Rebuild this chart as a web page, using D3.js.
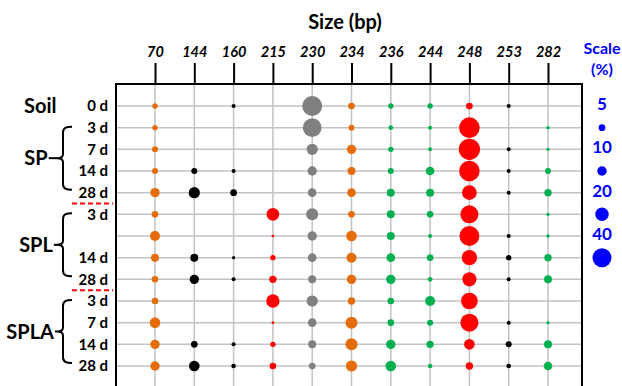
<!DOCTYPE html>
<html>
<head>
<meta charset="utf-8">
<script src="https://cdn.jsdelivr.net/npm/d3@7"></script>
<style>
  body { margin: 0; background: #fff; }
  svg { display: block; font-family: Lato, "Open Sans", sans-serif; font-weight: bold; }
</style>
</head>
<body>
<div id="chart"></div>
<script>
"use strict";

// fragment sizes (columns) and their dot colours
var sizes = ["70", "144", "160", "215", "230", "234", "236", "244", "248", "253", "282"];
var sizeColors = ["#e46c0a", "#000000", "#000000", "#ff0000", "#808080", "#e46c0a",
                  "#00b050", "#00b050", "#ff0000", "#000000", "#00b050"];

// rows: sampling day labels (one row has no label in the original)
var dayLabels = ["0 d", "3 d", "7 d", "14 d", "28 d", "3 d", "", "14 d", "28 d", "3 d", "7 d", "14 d", "28 d"];
var groupNames = ["SP", "SPL", "SPLA"];
var groupFirstRow = [1, 5, 9];
var groupLastRow = [4, 8, 12];
var scaleValues = [5, 10, 20, 40];

// relative abundance (%) per size, one value per row, null = not detected
var bp70  = [3.2, 3.2, 4, 4, 9.7, 4.9, 11, 7, 4.9, 4.9, 12.6, 9.7, 9.7];
var bp144 = [null, null, null, 4, 14, null, null, 7, 9.7, null, null, 5, 12.6];
var bp160 = [1.8, null, null, 1.8, 5, null, null, 1.2, 1.8, null, null, 1.8, 2.4];
var bp215 = [null, null, null, null, null, 17.8, 0.8, 3.2, 6, 19.7, 0.8, 3.2, 4.9];
var bp230 = [44, 38.7, 14, 9.7, 8.3, 16, 9.7, 8.3, 7, 14, 8.3, 7, 4.9];
var bp234 = [4.9, 4, 9.7, 7, 8.3, 4.9, 12.6, 11, 9.7, 6, 16, 16, 14];
var bp236 = [3.2, 2.4, 3.2, 4, 7, 7, 7, 8.3, 9.7, 4.9, 4.9, 9.7, 12.6];
var bp244 = [3.2, 1.8, 1.8, 8.3, 7, 4.9, 1.8, 4.9, 2.4, 11, 4, 6, 2.4];
var bp248 = [5, 47, 50, 47, 24, 36, 44, 26, 22, 31, 36, 12.6, 6];
var bp253 = [1.8, null, 1.8, 1.8, 1.8, null, 1.8, 3.2, 1.8, null, 1.8, 4, 2.4];
var bp282 = [null, 1.2, 1.2, 4, 6, 1.2, 1.2, 6, 7, null, 1.2, 7, 8.3];

(function() {
  // declarations
  var width = 622, height = 386;
  var frame = {left: 116, top: 84, right: 582, bottom: 388};
  var columns = [bp70, bp144, bp160, bp215, bp230, bp234, bp236, bp244, bp248, bp253, bp282];
  var rowIdx = d3.range(dayLabels.length);
  var svg, x, y, r, cells, legendX;

  x = d3.scalePoint().domain(sizes).range([155, 548]);
  y = d3.scalePoint().domain(rowIdx).range([106, 366]);
  r = d3.scaleSqrt().domain([0, 40]).range([0, 9.5]);

  svg = d3.select("#chart").append("svg")
    .attr("width", width)
    .attr("height", height);

  // grid
  svg.append("g").selectAll("line")
    .data(rowIdx)
    .enter().append("line")
    .attr("x1", frame.left).attr("x2", frame.right)
    .attr("y1", function(d) { return y(d); })
    .attr("y2", function(d) { return y(d); })
    .attr("stroke", "#c3c3c3").attr("stroke-width", 1.5);

  svg.append("g").selectAll("line")
    .data(sizes)
    .enter().append("line")
    .attr("x1", function(d) { return x(d); })
    .attr("x2", function(d) { return x(d); })
    .attr("y1", frame.top).attr("y2", frame.bottom)
    .attr("stroke", "#c3c3c3").attr("stroke-width", 1.5);

  // frame
  svg.append("rect")
    .attr("x", frame.left).attr("y", frame.top)
    .attr("width", frame.right - frame.left)
    .attr("height", frame.bottom - frame.top)
    .attr("fill", "none").attr("stroke", "#000").attr("stroke-width", 2);

  // top axis
  var axis = d3.axisTop(x).tickSize(21).tickPadding(6);
  var axisG = svg.append("g")
    .attr("transform", "translate(0," + frame.top + ")")
    .call(axis);
  axisG.select(".domain").remove();
  axisG.selectAll(".tick line").attr("stroke", "#000").attr("stroke-width", 2);
  axisG.selectAll(".tick text")
    .attr("fill", "#000")
    .style("font-family", "Lato, 'Open Sans', sans-serif")
    .style("font-size", "14.5px")
    .style("font-style", "italic")
    .style("font-weight", "bold");

  svg.append("text")
    .attr("x", 345).attr("y", 29)
    .attr("text-anchor", "middle")
    .style("font-size", "20px")
    .text("Size (bp)");

  // dots
  cells = [];
  columns.forEach(function(col, i) {
    col.forEach(function(v, j) {
      if (v !== null) cells.push({size: sizes[i], color: sizeColors[i], row: j, value: v});
    });
  });

  svg.append("g").selectAll("circle")
    .data(cells)
    .enter().append("circle")
    .attr("cx", function(d) { return x(d.size); })
    .attr("cy", function(d) { return y(d.row); })
    .attr("r", function(d) { return r(d.value); })
    .attr("fill", function(d) { return d.color; });

  // row labels
  svg.append("g").selectAll("text")
    .data(rowIdx)
    .enter().append("text")
    .attr("x", 108)
    .attr("y", function(d) { return y(d); })
    .attr("dy", "0.35em")
    .attr("text-anchor", "end")
    .style("font-size", "15px")
    .text(function(d) { return dayLabels[d]; });

  svg.append("text")
    .attr("x", 24).attr("y", y(0))
    .attr("dy", "0.35em")
    .style("font-size", "20px")
    .text("Soil");

  // group braces
  groupNames.forEach(function(name, i) {
    var top = y(groupFirstRow[i]) - 1, bot = y(groupLastRow[i]) - 3;
    var mid = (top + bot) / 2, sx = 63, hx = 72, tx = 57;
    var path = d3.path(), label, w, endX;
    path.moveTo(hx, top);
    path.bezierCurveTo(66, top, sx, top + 1, sx, top + 6);
    path.lineTo(sx, mid - 4);
    path.bezierCurveTo(sx, mid - 1, 61, mid, tx, mid);
    path.bezierCurveTo(61, mid, sx, mid + 1, sx, mid + 4);
    path.lineTo(sx, bot - 6);
    path.bezierCurveTo(sx, bot - 1, 66, bot, hx, bot);
    svg.append("path")
      .attr("d", path.toString())
      .attr("fill", "none").attr("stroke", "#000").attr("stroke-width", 2);

    label = svg.append("text")
      .attr("y", mid)
      .attr("dy", "0.35em")
      .attr("text-anchor", "end")
      .style("font-size", "20px")
      .text(name);
    w = label.node().getComputedTextLength();
    endX = Math.min(36 + w / 2, 54);
    label.attr("x", endX);

    svg.append("line")
      .attr("x1", endX + 1).attr("x2", tx)
      .attr("y1", mid).attr("y2", mid)
      .attr("stroke", "#000").attr("stroke-width", 2);
  });

  // dashed separators between groups
  [4, 8].forEach(function(row) {
    var yy = (y(row) + y(row + 1)) / 2;
    svg.append("line")
      .attr("x1", 72).attr("x2", 113)
      .attr("y1", yy).attr("y2", yy)
      .attr("stroke", "#ff0000").attr("stroke-width", 2)
      .attr("stroke-dasharray", "5,3");
  });

  // size legend
  legendX = 602;
  svg.append("text")
    .attr("x", legendX).attr("y", 54)
    .attr("text-anchor", "middle")
    .attr("fill", "#0000ff")
    .style("font-size", "16px")
    .text("Scale");
  svg.append("text")
    .attr("x", legendX).attr("y", 75)
    .attr("text-anchor", "middle")
    .attr("fill", "#0000ff")
    .style("font-size", "16px")
    .text("(%)");

  scaleValues.forEach(function(v, i) {
    svg.append("text")
      .attr("x", legendX).attr("y", y(i * 2) - 2)
      .attr("dy", "0.35em")
      .attr("text-anchor", "middle")
      .attr("fill", "#0000ff")
      .style("font-size", "17px")
      .text(v);
    svg.append("circle")
      .attr("cx", legendX).attr("cy", y(i * 2 + 1))
      .attr("r", r(v))
      .attr("fill", "#0000ff");
  });
})();
</script>
</body>
</html>
